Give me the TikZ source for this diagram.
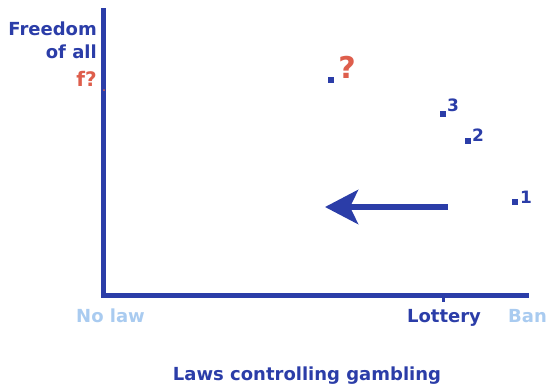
\documentclass[tikz,border=0pt]{standalone}
\usepackage{fontspec}
\setmainfont{DejaVu Sans}
\usetikzlibrary{arrows.meta}
\definecolor{dblue}{HTML}{2B3DA8}
\definecolor{lblue}{HTML}{A9CBF0}
\definecolor{rred}{HTML}{DE5E4C}
\tikzset{
  axisline/.style={draw=dblue, line width=5pt},
  lbl/.style={inner sep=0pt, font=\bfseries\fontsize{18}{20}\selectfont},
  pt/.style={fill=dblue, minimum size=6pt, inner sep=0pt},
  num/.style={lbl, text=dblue, font=\bfseries\fontsize{17}{19}\selectfont}
}
\begin{document}
\begin{tikzpicture}[x=1pt,y=-1pt]
\useasboundingbox (0,0) rectangle (547,389);
\coordinate (ytop) at (103,8);
\coordinate (orig) at (103,295);
\coordinate (xend) at (529,295);
\draw[axisline, line join=miter] (ytop) -- (orig) -- (xend);
\coordinate (lt) at (443,295);
\coordinate (ltb) at (443,302);
\draw[draw=dblue, line width=3pt] (lt) -- (ltb);
\node[circle, fill=rred, minimum size=2pt, inner sep=0pt] (ftick) at (104,90) {};
% y labels
\node[lbl, text=dblue, anchor=east] (fr) at (97,29) {Freedom};
\node[lbl, text=dblue, anchor=east] (oa) at (97,52) {of all};
\node[lbl, text=rred, anchor=east, font=\bfseries\fontsize{20}{22}\selectfont] (fq) at (97,79) {f?};
% x labels
\node[lbl, text=lblue, anchor=west] (nl) at (76,316) {No law};
\node[lbl, text=dblue] (lot) at (444,318) {Lottery};
\node[lbl, text=lblue, anchor=west] (ban) at (508,316) {Ban};
\node[lbl, text=dblue] (title) at (307,376) {Laws controlling gambling};
% points
\node[pt] (pq) at (331,80) {};
\node[lbl, text=rred, font=\bfseries\fontsize{30}{32}\selectfont] (q) at (347,67) {?};
\node[pt] (p3) at (443,114) {};
\node[num] (n3) at (453,105) {3};
\node[pt] (p2) at (468,141) {};
\node[num] (n2) at (478,135) {2};
\node[pt] (p1) at (515,202) {};
\node[num] (n1) at (526,197) {1};
% arrow
\coordinate (as) at (448,207);
\coordinate (ae) at (325,207);
\draw[draw=dblue, line width=6pt, -{Stealth[length=33pt,width=34pt,inset=8pt]}, color=dblue] (as) -- (ae);
\end{tikzpicture}
\end{document}
